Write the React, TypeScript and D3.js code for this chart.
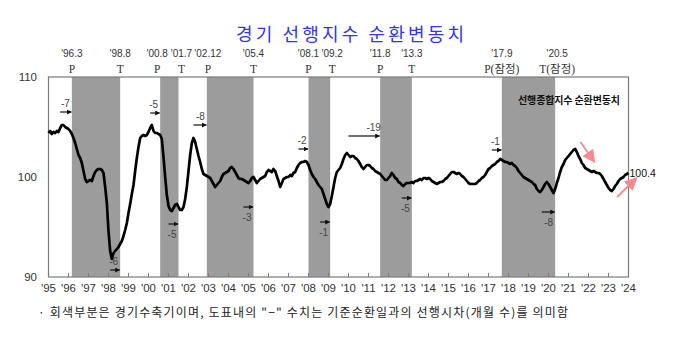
import React from 'react';
import * as d3 from 'd3';

// monthly cyclical component of the composite leading index, Jan 1995 – Jan 2024
const startYear = 1995;
const cliValues = [
  104.4, 104.6, 104.3, 104.5, 104.4, 104.6, 104.5, 104.9, 105.2, 105.2, 105.0, 104.9, // 1995
  104.8, 104.6, 104.3, 103.9, 103.4, 102.8, 102.2, 101.9, 101.4, 100.6, 99.8, 99.5, // 1996
  99.6, 99.7, 99.6, 100.1, 100.5, 100.7, 100.8, 100.8, 100.7, 100.4, 99.0, 97.4, // 1997
  94.6, 92.6, 91.8, 92.4, 92.6, 92.8, 93.0, 93.3, 93.6, 94.1, 94.7, 95.4, // 1998
  96.4, 97.3, 98.3, 99.2, 100.6, 101.9, 103.0, 103.9, 104.1, 104.2, 104.1, 104.2, // 1999
  104.5, 104.9, 105.2, 104.6, 104.4, 104.4, 104.3, 104.2, 103.8, 102.0, 100.0, 98.2, // 2000
  97.1, 96.7, 96.6, 96.9, 97.2, 97.3, 97.0, 96.7, 96.7, 97.0, 97.8, 99.0, // 2001
  100.6, 102.2, 103.4, 103.9, 103.5, 102.8, 102.1, 101.5, 100.8, 100.3, 100.2, 100.1, // 2002
  100.0, 99.9, 99.6, 99.3, 99.0, 99.2, 99.4, 99.6, 100.0, 100.3, 100.4, 100.5, // 2003
  100.6, 100.9, 101.0, 100.8, 100.5, 100.2, 99.9, 99.8, 99.8, 99.7, 99.6, 99.5, // 2004
  99.4, 99.6, 99.9, 100.0, 99.7, 99.4, 99.6, 99.8, 99.9, 100.0, 100.1, 100.5, // 2005
  100.7, 100.6, 100.5, 100.8, 100.6, 100.1, 99.6, 99.0, 99.4, 99.8, 99.9, 100.0, // 2006
  100.0, 100.2, 100.1, 100.4, 100.5, 100.9, 101.2, 101.4, 101.5, 101.5, 101.6, 101.5, // 2007
  101.2, 100.7, 100.3, 100.0, 99.8, 99.5, 99.2, 99.0, 98.8, 98.3, 97.8, 97.3, // 2008
  97.0, 97.3, 98.1, 99.0, 99.9, 100.5, 100.7, 100.9, 101.3, 101.8, 102.2, 102.4, // 2009
  102.2, 102.0, 102.1, 102.1, 101.9, 101.8, 101.6, 101.3, 101.0, 100.8, 101.0, 101.2, // 2010
  101.2, 101.1, 100.9, 100.8, 100.6, 100.5, 100.4, 100.3, 100.1, 99.9, 99.7, 99.7, // 2011
  99.9, 100.1, 100.4, 100.2, 99.9, 99.8, 99.5, 99.4, 99.2, 99.1, 99.3, 99.4, // 2012
  99.4, 99.4, 99.5, 99.4, 99.6, 99.6, 99.7, 99.8, 99.7, 99.9, 99.9, 99.8, // 2013
  99.9, 99.8, 99.6, 99.5, 99.4, 99.3, 99.4, 99.5, 99.5, 99.6, 99.8, 99.9, // 2014
  100.1, 100.3, 100.5, 100.5, 100.4, 100.3, 100.4, 100.3, 100.1, 100.0, 99.8, 99.6, // 2015
  99.4, 99.3, 99.3, 99.3, 99.3, 99.4, 99.6, 99.7, 99.9, 100.0, 100.2, 100.5, // 2016
  100.8, 100.9, 101.1, 101.2, 101.3, 101.5, 101.6, 101.8, 101.7, 101.6, 101.5, 101.5, // 2017
  101.4, 101.3, 101.4, 101.2, 101.1, 100.9, 100.6, 100.4, 100.2, 100.0, 99.9, 99.8, // 2018
  99.7, 99.6, 99.5, 99.3, 99.2, 98.8, 98.6, 98.5, 98.7, 99.0, 99.3, 99.5, // 2019
  99.3, 99.0, 98.7, 98.4, 98.8, 99.4, 99.9, 100.5, 101.0, 101.3, 101.7, 101.9, // 2020
  102.1, 102.3, 102.5, 102.7, 102.8, 102.5, 102.1, 101.8, 101.4, 101.2, 100.9, 100.8, // 2021
  100.7, 100.6, 100.5, 100.6, 100.5, 100.4, 100.4, 100.3, 100.1, 99.8, 99.5, 99.2, // 2022
  98.9, 98.7, 98.6, 98.8, 99.1, 99.3, 99.6, 99.8, 99.9, 100.0, 100.2, 100.3, // 2023
  100.4, // 2024
];

const xTickLabels = ["'95", "'96", "'97", "'98", "'99", "'00", "'01", "'02", "'03", "'04",
  "'05", "'06", "'07", "'08", "'09", "'10", "'11", "'12", "'13", "'14",
  "'15", "'16", "'17", "'18", "'19", "'20", "'21", "'22", "'23", "'24"];
const yTickValues = [90, 100, 110];

// reference turning points (peak / trough)
const turnLabels = ["'96.3", "'98.8", "'00.8", "'01.7", "'02.12", "'05.4", "'08.1", "'09.2", "'11.8", "'13.3", "'17.9", "'20.5"];
const turnTypes = ['P', 'T', 'P', 'T', 'P', 'T', 'P', 'T', 'P', 'T', 'P(잠정)', 'T(잠정)'];

// lead (months) of the index against each turning point
const leadValues = [-7, -5, -8, -2, -19, -1, -6, -5, -3, -1, -5, -8];
const leadTurnIndex = [0, 2, 4, 6, 8, 10, 1, 3, 5, 7, 9, 11];

const title = '경기 선행지수 순환변동치';
const legendLabel = '선행종합지수 순환변동치';
const footnote = '· 회색부분은 경기수축기이며, 도표내의 "−" 수치는 기준순환일과의 선행시차(개월 수)를 의미함';

// layout
const W = 676;
const H = 362;
const left = 48.5;
const right = 628.5;
const top = 77;
const bottom = 277;
const turnLabelShift = [0, 0, -3, 3, 1, 0, 0, 2, 0, 0, 0, 2];
const leadArrowLevel = [106.5, 106.4, 105.2, 102.8, 104.1, 102.7, 90.7, 95.3, 97.0, 95.5, 97.9, 96.5];
const leadLabelBelow = [false, false, false, false, false, false, false, true, true, true, true, true];
const pinkArrows = [
  [2021.6, 103.5, 2022.3, 101.5],
  [2023.43, 98.0, 2024.4, 99.9],
];

const sansFont = '"Liberation Sans", Arial, sans-serif';
const serifFont = '"Liberation Serif", "Noto Sans CJK KR", serif';
const krFont = '"Noto Sans CJK KR", sans-serif';

function turnDate(label: string) {
  const [yy, mm] = label.replace("'", '').split('.');
  const y = +yy < 50 ? 2000 + +yy : 1900 + +yy;
  return y + (+mm - 1) / 12;
}

export default function App() {
  const x = d3.scaleLinear().domain([startYear, startYear + xTickLabels.length - 1]).range([left, right]);
  const y = d3.scaleLinear().domain([90, 110]).range([bottom, top]);

  const points = cliValues.map((v, i) => ({ t: startYear + i / 12, v }));
  const linePath = d3.line<any>().x(d => x(d.t)).y(d => y(d.v))(points);

  const turns = turnLabels.map(turnDate);
  const shades = d3.range(0, turns.length, 2).map(i => [turns[i], turns[i + 1]]);

  const last = points[points.length - 1];

  return (
    <svg width={W} height={H} style={{ position: 'absolute', left: 0, top: 0, background: '#fff' }}>
      <defs>
        <marker id="ah" viewBox="0 0 10 10" refX="9" refY="5" markerWidth="5" markerHeight="5"
          markerUnits="userSpaceOnUse" orient="auto">
          <path d="M0,0 L10,5 L0,10 z" fill="#111" />
        </marker>
        <marker id="pink" viewBox="0 0 10 10" refX="9" refY="5" markerWidth="13" markerHeight="13"
          markerUnits="userSpaceOnUse" orient="auto">
          <path d="M0,0 L10,5 L0,10 z" fill="#f58a8f" />
        </marker>
      </defs>

      <text x={350} y={33} textAnchor="middle" dominantBaseline="central" fontFamily={krFont}
        fontSize={18} fill="#2f35f5" textLength={228}>{title}</text>

      {/* contraction periods */}
      {shades.map(([a, b], i) => (
        <rect key={i} x={x(a)} y={top} width={x(b) - x(a)} height={bottom - top} fill="#9c9c9c" />
      ))}

      {/* turning point labels */}
      {turns.map((t, i) => (
        <g key={i}>
          <text x={x(t) + turnLabelShift[i]} y={53} textAnchor="middle" dominantBaseline="central"
            fontFamily={sansFont} fontSize={10} fill="#333">{turnLabels[i]}</text>
          <text x={x(t) + turnLabelShift[i]} y={69} textAnchor="middle" dominantBaseline="central"
            fontFamily={serifFont} fontSize={11.5} fill="#333">{turnTypes[i]}</text>
        </g>
      ))}

      {/* frame */}
      <rect x={left} y={top} width={right - left} height={bottom - top} fill="none" stroke="#7a7a7a" strokeWidth={1.2} />

      {/* x ticks */}
      {xTickLabels.map((lab, i) => (
        <g key={lab}>
          <line x1={x(startYear + i)} x2={x(startYear + i)} y1={bottom} y2={bottom - 4} stroke="#7a7a7a" />
          <text x={x(startYear + i)} y={288} textAnchor="middle" dominantBaseline="central"
            fontFamily={sansFont} fontSize={11.5} fill="#333">{lab}</text>
        </g>
      ))}

      {/* y labels */}
      {yTickValues.map(v => (
        <text key={v} x={37} y={y(v)} textAnchor="end" dominantBaseline="central"
          fontFamily={sansFont} fontSize={11.5} fill="#333">{v}</text>
      ))}

      <text x={620} y={99} textAnchor="end" dominantBaseline="central" fontFamily={krFont}
        fontWeight="bold" fontSize={10} fill="#111" textLength={102}>{legendLabel}</text>

      {/* lead annotations */}
      {leadValues.map((lead, i) => {
        const t = turns[leadTurnIndex[i]];
        const x2 = x(t) - 0.5;
        const x1 = x(t - Math.max(Math.abs(lead), 6) / 12);
        const ay = y(leadArrowLevel[i]);
        return (
          <g key={i}>
            <line x1={x1} x2={x2} y1={ay} y2={ay} stroke="#111" strokeWidth={1.2} markerEnd="url(#ah)" />
            <text x={x2 - 6} y={leadLabelBelow[i] ? ay + 10 : ay - 9} textAnchor="middle"
              dominantBaseline="central" fontFamily={sansFont} fontSize={10} fill="#444">{lead}</text>
          </g>
        );
      })}

      <path d={linePath} fill="none" stroke="#000" strokeWidth={2.7} strokeLinejoin="round" />

      {pinkArrows.map((a, i) => (
        <line key={i} x1={x(a[0])} y1={y(a[1])} x2={x(a[2])} y2={y(a[3])} stroke="#f58a8f"
          strokeWidth={1.8} markerEnd="url(#pink)" />
      ))}

      <text x={x(last.t) + 1} y={y(last.v)} dominantBaseline="central" fontFamily={sansFont}
        fontSize={10.5} fill="#111">{last.v.toFixed(1)}</text>

      <text x={38} y={311} dominantBaseline="central" fontFamily={krFont} fontSize={12}
        fill="#222" textLength={530}>{footnote}</text>
    </svg>
  );
}
